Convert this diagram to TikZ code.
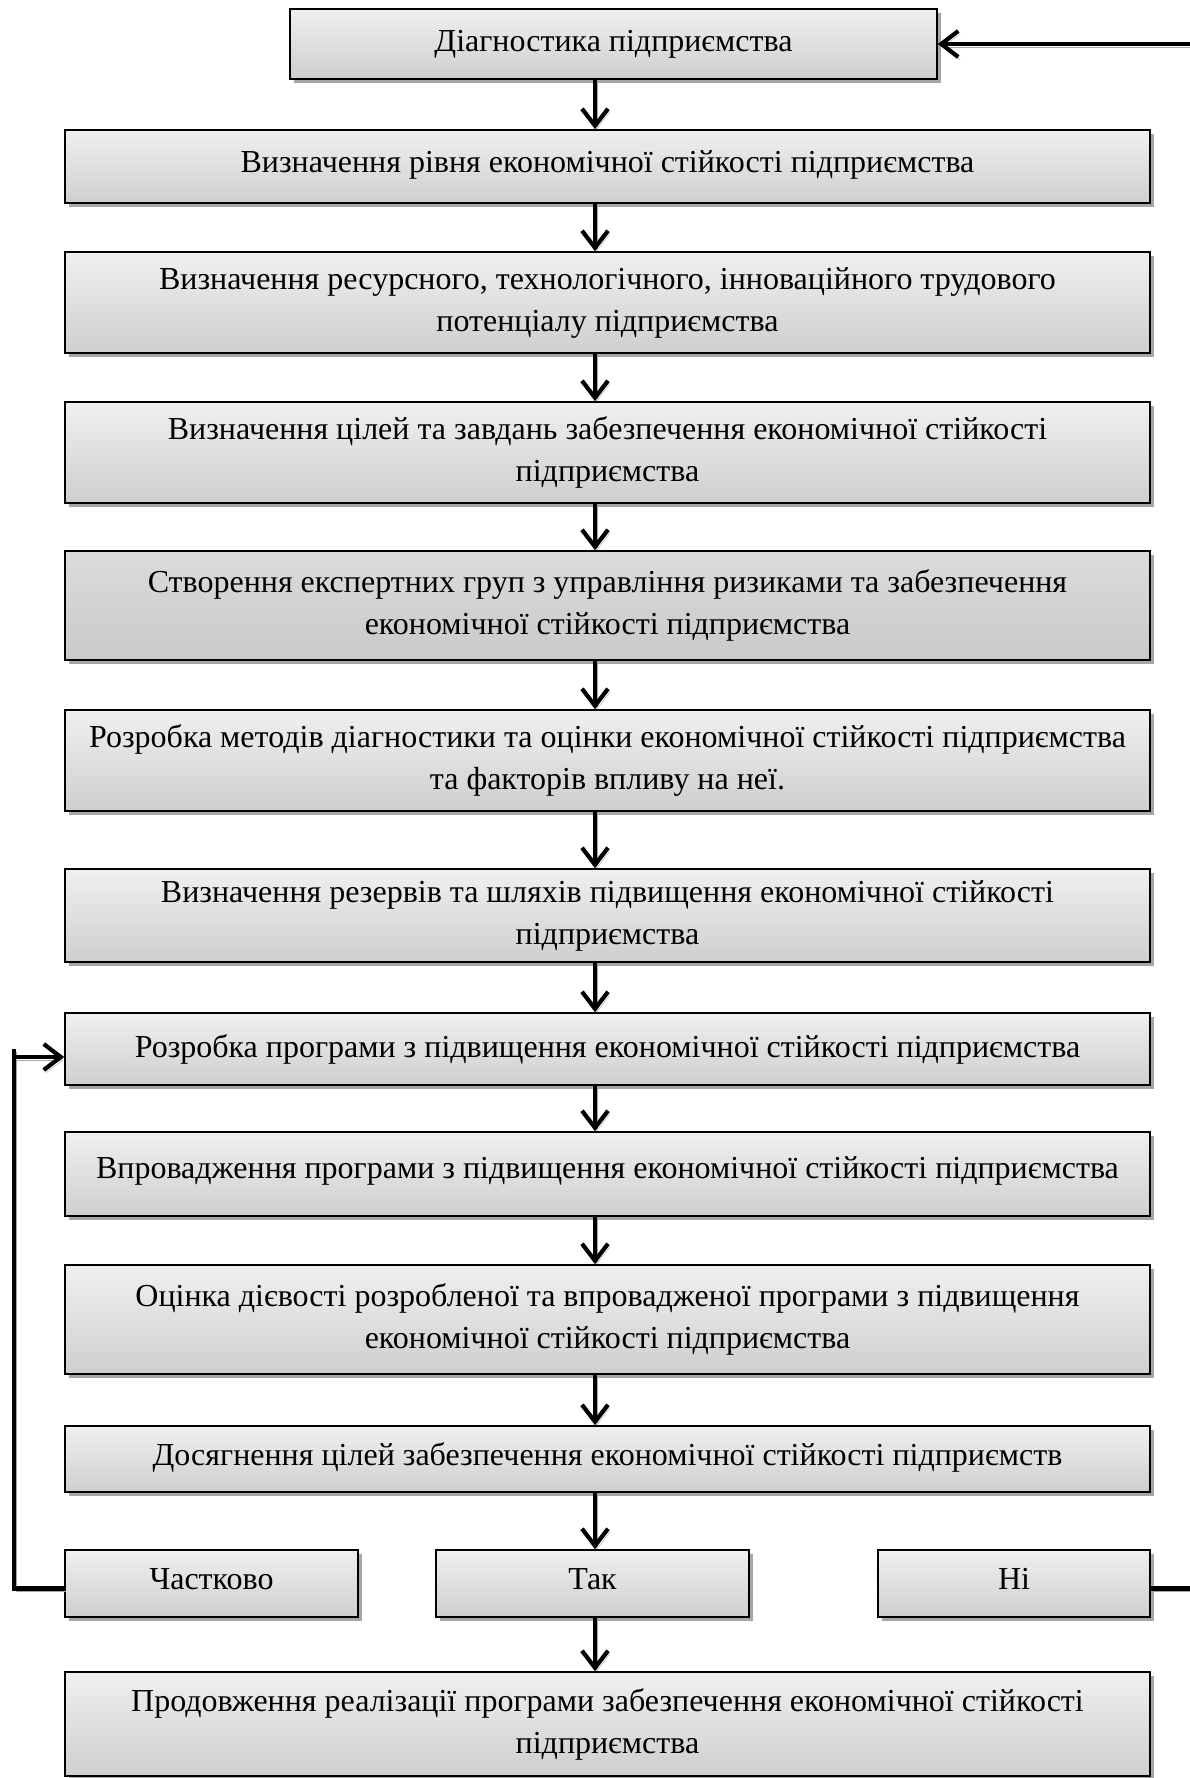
\documentclass[tikz,border=0pt]{standalone}
\usepackage{fontspec}
\setmainfont{Liberation Serif}
\usetikzlibrary{arrows.meta,shadows,calc}
\newcommand{\upby}[2]{\raisebox{#1pt}{#2}}
\begin{document}
\begin{tikzpicture}[x=1pt,y=-1pt,
  box/.style={draw=black, line width=1.6pt, rectangle, align=center,
    top color=gray!12, bottom color=gray!38, inner sep=0pt,
    drop shadow={shadow xshift=4pt, shadow yshift=-4pt, fill=gray!70, opacity=1},
    font=\fontsize{32}{42}\selectfont},
  darkbox/.style={box, top color=gray!28, bottom color=gray!42},
  conn/.style={line width=4.2pt, -{Straight Barb[length=17pt,width=26pt,line width=4.2pt]},
    preaction={draw=gray!70, transform canvas={shift={(2pt,-3pt)}}}},
  line/.style={line width=4.2pt,
    preaction={draw=gray!70, transform canvas={shift={(2pt,-3pt)}}}}
]
\useasboundingbox (0,0) rectangle (1190,1778);
\def\bw{1085}
\node[box, minimum width=647, minimum height=70] (b1) at (613.5,44) {Діагностика підприємства};
\node[box, minimum width=\bw, minimum height=73] (b2) at (607.5,166.5) {\upby{9}{Визначення рівня економічної стійкості підприємства}};
\node[box, minimum width=\bw, minimum height=101] (b3) at (607.5,302.5) {Визначення ресурсного, технологічного, інноваційного трудового\\потенціалу підприємства};
\node[box, minimum width=\bw, minimum height=101] (b4) at (607.5,452.5) {Визначення цілей та завдань забезпечення економічної стійкості\\підприємства};
\node[darkbox, minimum width=\bw, minimum height=109] (b5) at (607.5,605.5) {Створення експертних груп з управління ризиками та забезпечення\\економічної стійкості підприємства};
\node[box, minimum width=\bw, minimum height=101] (b6) at (607.5,760.5) {Розробка методів діагностики та оцінки економічної стійкості підприємства\\та факторів впливу на неї.};
\node[box, minimum width=\bw, minimum height=93] (b7) at (607.5,915.5) {Визначення резервів та шляхів підвищення економічної стійкості\\підприємства};
\node[box, minimum width=\bw, minimum height=72] (b8) at (607.5,1049) {Розробка програми з підвищення економічної стійкості підприємства};
\node[box, minimum width=\bw, minimum height=84] (b9) at (607.5,1174) {\upby{13}{Впровадження програми з підвищення економічної стійкості підприємства}};
\node[box, minimum width=\bw, minimum height=109] (b10) at (607.5,1319.5) {Оцінка дієвості розробленої та впровадженої програми з підвищення\\економічної стійкості підприємства};
\node[box, minimum width=\bw, minimum height=66] (b11) at (607.5,1459) {\upby{9}{Досягнення цілей забезпечення економічної стійкості підприємств}};
\node[box, minimum width=293, minimum height=67] (p) at (211.5,1583.5) {\upby{9}{Частково}};
\node[box, minimum width=313, minimum height=67] (y) at (592.5,1583.5) {\upby{9}{Так}};
\node[box, minimum width=272, minimum height=67] (n) at (1014,1583.5) {\upby{9}{Ні}};
\node[box, minimum width=\bw, minimum height=104] (b12) at (607.5,1724) {Продовження реалізації програми забезпечення економічної стійкості\\підприємства};

\coordinate (ax) at (595,0);
\foreach \a/\b in {b1/b2,b2/b3,b3/b4,b4/b5,b5/b6,b6/b7,b7/b8,b8/b9,b9/b10,b10/b11,b11/y,y/b12}
  \draw[conn] (\a.south -| ax) -- (\b.north -| ax);

\coordinate (lx) at (14,0);
\draw[conn] ($(p.west)+(0,5)$) -| (lx |- b8.west) ++(0,8) -- ($(b8.west)+(0,8)$);
\coordinate (re) at (1192,1588.5);
\draw[line] ($(n.east)+(0,5)$) -- (re);
\coordinate (rt) at (1192,44);
\draw[conn] (rt) -- (rt -| b1.east);
\end{tikzpicture}
\end{document}
